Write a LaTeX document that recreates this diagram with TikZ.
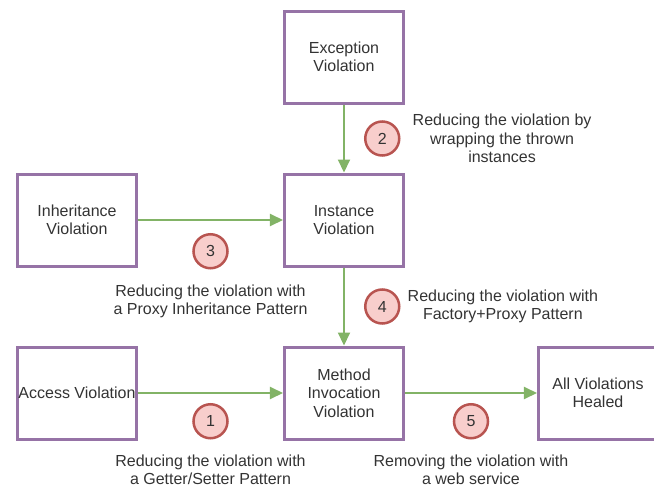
\documentclass[tikz,border=0pt]{standalone}
\usepackage{fontspec}
\setmainfont{Liberation Sans}
\usetikzlibrary{arrows.meta,positioning}
\definecolor{boxpurple}{RGB}{150,115,166}
\definecolor{arrgreen}{RGB}{130,179,102}
\definecolor{badgered}{RGB}{184,84,80}
\definecolor{badgefill}{RGB}{248,206,204}
\definecolor{txtgray}{RGB}{51,51,51}

\begin{document}
\begin{tikzpicture}[
  font=\fontsize{16}{18.5}\selectfont, text=txtgray,
  bx/.style={draw=boxpurple, line width=3pt, fill=white, align=center,
             minimum width=119pt, minimum height=92pt, inner sep=0pt},
  arr/.style={-{Triangle[length=13pt,width=12pt]}, draw=arrgreen, line width=2pt},
  badge/.style={circle, draw=badgered, fill=badgefill, line width=2.5pt,
                minimum size=34pt, inner sep=0pt},
  note/.style={align=center, inner sep=1pt}
]
\useasboundingbox (-344pt,57pt) rectangle (310pt,-433pt);
\node[bx] (exc) {Exception\\Violation};
\node[bx, below=68pt of exc] (inst) {Instance\\Violation};
\node[bx, left=145pt of inst] (inh) {Inheritance\\Violation};
\node[bx, below=78pt of inst] (meth) {Method\\Invocation\\Violation};
\node[bx, left=145pt of meth] (acc) {Access Violation};
\node[bx, right=132pt of meth] (heal) {All Violations\\Healed};

% steps
\draw[arr] (exc) -- (inst) node[badge, midway, right=20pt] (b2) {2};
\draw[arr] (inh) -- (inst) node[badge, midway, below=13pt] (b3) {3};
\draw[arr] (inst) -- (meth) node[badge, midway, right=20pt] (b4) {4};
\draw[arr] (acc) -- (meth) node[badge, midway, below=10pt] (b1) {1};
\draw[arr] (meth) -- (heal) node[badge, midway, below=10pt] (b5) {5};

\node[note, right=11pt of b2] (n2) {Reducing the violation by\\wrapping the thrown\\instances};
\node[note, below=14pt of b3] (n3) {Reducing the violation with\\a Proxy Inheritance Pattern};
\node[note, right=6pt of b4] (n4) {Reducing the violation with\\Factory+Proxy Pattern};
\node[note, below=14pt of b1] (n1) {Reducing the violation with\\a Getter/Setter Pattern};
\node[note, below=14pt of b5] (n5) {Removing the violation with\\a web service};
\end{tikzpicture}
\end{document}
